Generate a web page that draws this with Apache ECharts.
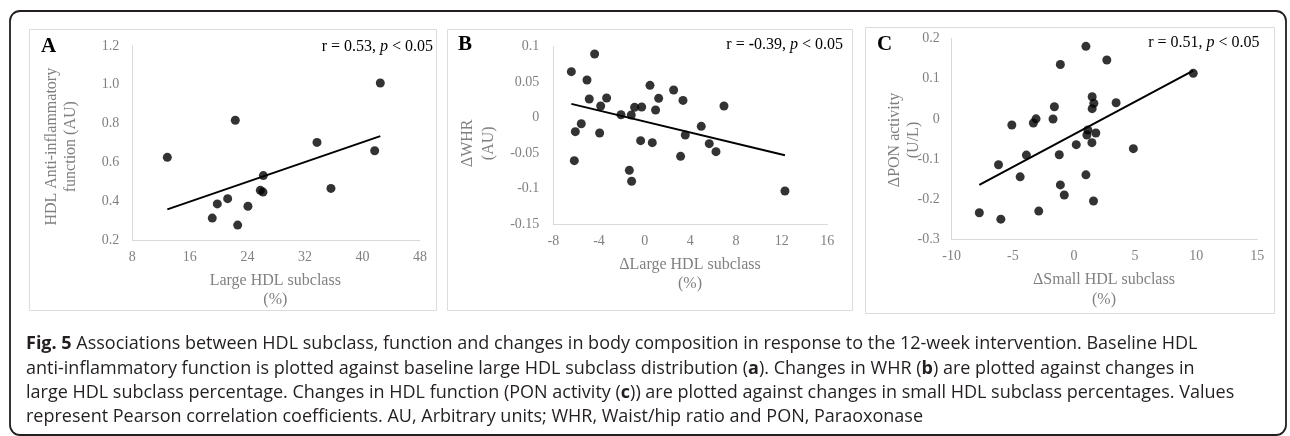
<!DOCTYPE html>
<html>
<head>
<meta charset="utf-8">
<script src="https://cdn.jsdelivr.net/npm/echarts@6/dist/echarts.min.js"></script>
<style>
html,body{margin:0;padding:0;background:#fff;}
#c{width:1290px;height:436px;}
</style>
</head>
<body>
<div id="c"></div>
<script>
// ---- Data ----
var aX = [12.87, 22.32, 42.48, 33.68, 41.70, 26.22, 25.80, 26.17, 35.62, 21.26, 19.82, 19.12, 24.08, 22.65];
var aY = [0.626, 0.817, 1.009, 0.703, 0.660, 0.532, 0.456, 0.447, 0.466, 0.413, 0.386, 0.313, 0.374, 0.277];

var bX = [-6.42, -4.38, -5.05, -4.85, -3.33, -3.85, -2.07, -1.17, -0.88, -0.26, 0.47, 1.23, 0.96, 2.54, 3.36, 6.95,
          -5.55, -6.07, -3.94, -6.16, -0.35, 0.67, 3.56, 4.96, 5.66, 6.25, 3.15, -1.34, -1.14, 12.29];
var bY = [0.0648, 0.0897, 0.053, 0.0262, 0.0276, 0.0164, 0.0041, 0.0037, 0.0145, 0.0149, 0.0455, 0.0272, 0.0107, 0.0389, 0.0243, 0.0164,
          -0.0086, -0.0198, -0.0217, -0.0607, -0.0325, -0.0353, -0.0245, -0.0123, -0.0367, -0.048, -0.0546, -0.0743, -0.0898, -0.1035];

var cX = [0.98, -1.11, 2.69, 9.76, 1.49, 1.63, 1.49, 3.45, -1.60, -1.71, -3.10, -3.32, -5.08, 1.14, 1.06, 1.79, 1.47, 0.19,
          4.86, -3.89, -1.20, -6.17, -4.40, 0.98, -1.11, -0.79, 1.60, -2.88, -7.74, -5.98];
var cY = [0.180, 0.135, 0.146, 0.113, 0.055, 0.0386, 0.0253, 0.040, 0.030, -0.0003, 0.0, -0.0103, -0.0152, -0.0276, -0.040, -0.035, -0.059, -0.064,
          -0.074, -0.090, -0.089, -0.114, -0.144, -0.139, -0.164, -0.189, -0.204, -0.229, -0.233, -0.249];

// tick labels
var aXTicks = [8, 16, 24, 32, 40, 48];
var aYTicks = [0.2, 0.4, 0.6, 0.8, 1.0, 1.2];
var bXTicks = [-8, -4, 0, 4, 8, 12, 16];
var bYTicks = [-0.15, -0.1, -0.05, 0, 0.05, 0.1];
var cXTicks = [-10, -5, 0, 5, 10, 15];
var cYTicks = [-0.3, -0.2, -0.1, 0, 0.1, 0.2];

var captionLines = [
  '{b|Fig. 5} Associations between HDL subclass, function and changes in body composition in response to the 12-week intervention. Baseline HDL',
  'anti-inflammatory function is plotted against baseline large HDL subclass distribution ({b|a}). Changes in WHR ({b|b}) are plotted against changes in',
  'large HDL subclass percentage. Changes in HDL function (PON activity ({b|c})) are plotted against changes in small HDL subclass percentages. Values',
  'represent Pearson correlation coefficients. AU, Arbitrary units; WHR, Waist/hip ratio and PON, Paraoxonase'
];

// ---- helpers ----
function pairs(xs, ys) { return xs.map(function (x, i) { return [x, ys[i]]; }); }
function trend(xs, ys) {
  var n = xs.length, mx = 0, my = 0;
  for (var i = 0; i < n; i++) { mx += xs[i]; my += ys[i]; }
  mx /= n; my /= n;
  var sxy = 0, sxx = 0;
  for (i = 0; i < n; i++) { sxy += (xs[i] - mx) * (ys[i] - my); sxx += (xs[i] - mx) * (xs[i] - mx); }
  var k = sxy / sxx, b0 = my - k * mx;
  var x0 = Math.min.apply(null, xs), x1 = Math.max.apply(null, xs);
  return [[x0, k * x0 + b0], [x1, k * x1 + b0]];
}
var SERIF = '"Liberation Serif", "DejaVu Serif", serif';
var SANS = '"Open Sans", "Noto Sans", sans-serif';
var GRAY = '#808080';
var AXC = '#d9d9d9';

function xAxis(idx, ticks) {
  return {
    type: 'value', gridIndex: idx, min: ticks[0], max: ticks[ticks.length - 1],
    interval: ticks[1] - ticks[0],
    axisLine: { show: true, onZero: false, lineStyle: { color: AXC, width: 1 } },
    axisTick: { show: false }, splitLine: { show: false },
    axisLabel: { color: GRAY, fontFamily: SERIF, fontSize: 14, margin: 10 }
  };
}
function yAxis(idx, ticks, fmt, margin) {
  return {
    type: 'value', gridIndex: idx, min: ticks[0], max: ticks[ticks.length - 1],
    interval: Math.round((ticks[1] - ticks[0]) * 1000) / 1000,
    axisLine: { show: true, onZero: false, lineStyle: { color: AXC, width: 1 } },
    axisTick: { show: false }, splitLine: { show: false },
    axisLabel: { color: GRAY, fontFamily: SERIF, fontSize: 14, margin: margin, formatter: fmt }
  };
}
function scatter(idx, xs, ys) {
  return { type: 'scatter', xAxisIndex: idx, yAxisIndex: idx, data: pairs(xs, ys), symbolSize: 9,
           itemStyle: { color: '#000' }, silent: true, z: 3 };
}
function line(idx, xs, ys) {
  return { type: 'line', xAxisIndex: idx, yAxisIndex: idx, data: trend(xs, ys), symbol: 'none',
           lineStyle: { color: '#000', width: 2 }, silent: true, z: 2 };
}

function txt(x, y, text, o) {
  o = o || {};
  return {
    type: 'text', x: x, y: y, rotation: o.rotation || 0, z: 10,
    style: {
      text: text, fill: o.fill || GRAY, fontFamily: o.fontFamily || SERIF, fontSize: o.fontSize || 16,
      fontWeight: o.fontWeight || 'normal', align: o.align || 'center', verticalAlign: o.verticalAlign || 'middle',
      lineHeight: o.lineHeight || 19, rich: o.rich
    }
  };
}
function box(x, y, w, h, o) {
  o = o || {};
  return { type: 'rect', z: 1, shape: { x: x, y: y, width: w, height: h, r: o.r || 0 },
           style: { fill: 'none', stroke: o.stroke || '#dcdcdc', lineWidth: o.lw || 1 } };
}

var corrRich = {
  n: { fontFamily: SERIF, fontSize: 16, fill: '#000' },
  i: { fontFamily: SERIF, fontSize: 16, fill: '#000', fontStyle: 'italic' },
  m: { fontFamily: SERIF, fontSize: 16, fill: '#000', fontWeight: 'bold' }
};
var CAPFS = 18;
var capRich = {
  b: { fontFamily: SANS, fontSize: CAPFS, fill: '#231f20', fontWeight: 'bold' }
};

var graphics = [
  box(10, 11, 1276, 424, { r: 10, stroke: '#231f20', lw: 1.8 }),
  box(29.5, 29.5, 407, 281),
  box(447.5, 29.5, 405, 281),
  box(865.5, 27.5, 409, 286),
  // panel letters
  txt(48.5, 46.5, 'A', { fill: '#000', fontSize: 21, fontWeight: 'bold' }),
  txt(465, 45, 'B', { fill: '#000', fontSize: 21, fontWeight: 'bold' }),
  txt(884.5, 45, 'C', { fill: '#000', fontSize: 21, fontWeight: 'bold' }),
  // correlation texts
  txt(433, 46.5, '{n|r = 0.53, }{i|p}{n| < 0.05}', { align: 'right', rich: corrRich }),
  txt(843, 45, '{n|r = }{m|-}{n|0.39, }{i|p}{n| < 0.05}', { align: 'right', rich: corrRich }),
  txt(1259.5, 42.5, '{n|r = 0.51, }{i|p}{n| < 0.05}', { align: 'right', rich: corrRich }),
  // axis titles
  txt(61.3, 146.7, 'HDL Anti-inflammatory\nfunction (AU)', { rotation: Math.PI / 2, lineHeight: 19.3 }),
  txt(275.3, 290.5, 'Large HDL subclass\n(%)', { lineHeight: 19 }),
  txt(477.8, 143.3, '\u0394WHR\n(AU)', { rotation: Math.PI / 2, lineHeight: 21 }),
  txt(690, 273.8, '\u0394Large HDL subclass\n(%)', { lineHeight: 19 }),
  txt(904.3, 140, '\u0394PON activity\n(U/L)', { rotation: Math.PI / 2, lineHeight: 19.3 }),
  txt(1104, 289.7, '\u0394Small HDL subclass\n(%)', { lineHeight: 19.3 })
];
var capY = [344, 368.5, 393, 417];
captionLines.forEach(function (l, i) {
  graphics.push(txt(26, capY[i], l, {
    align: 'left', fill: '#231f20', fontFamily: SANS, fontSize: CAPFS, rich: capRich
  }));
});

var chart = echarts.init(document.getElementById('c'), null, { renderer: 'canvas' });
chart.setOption({
  animation: false,
  backgroundColor: '#fff',
  grid: [
    { left: 132.3, top: 46, width: 287.7, height: 194 },
    { left: 553.3, top: 46.7, width: 274, height: 177.3 },
    { left: 951.7, top: 38.3, width: 305.6, height: 201.4 }
  ],
  xAxis: [xAxis(0, aXTicks), xAxis(1, bXTicks), xAxis(2, cXTicks)],
  yAxis: [
    yAxis(0, aYTicks, function (v) { return v.toFixed(1); }, 13),
    yAxis(1, bYTicks, null, 14),
    yAxis(2, cYTicks, null, 12)
  ],
  series: [scatter(0, aX, aY), line(0, aX, aY), scatter(1, bX, bY), line(1, bX, bY), scatter(2, cX, cY), line(2, cX, cY)],
  graphic: graphics
});
</script>
</body>
</html>
